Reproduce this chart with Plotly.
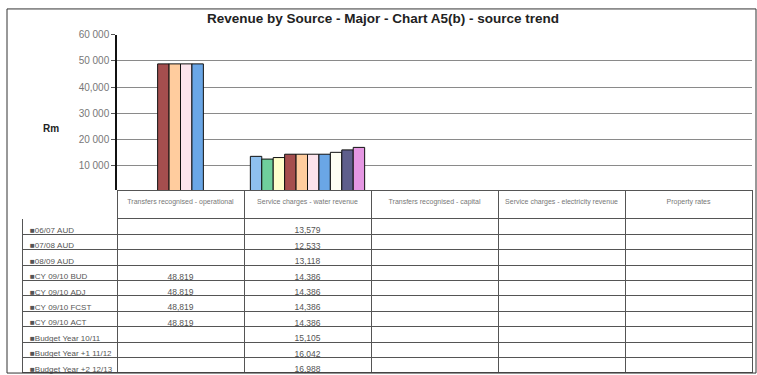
import plotly.graph_objects as go

W, H = 757, 375

categories = [
    "Transfers recognised - operational",
    "Service charges - water revenue",
    "Transfers recognised - capital",
    "Service charges - electricity revenue",
    "Property rates",
]

series_names = [
    "06/07 AUD", "07/08 AUD", "08/09 AUD",
    "CY 09/10 BUD", "CY 09/10 ADJ", "CY 09/10 FCST", "CY 09/10 ACT",
    "Budget Year 10/11", "Budget Year +1 11/12", "Budget Year +2 12/13",
]

# values per series, order of categories
v_0607 = [None, 13579, None, None, None]
v_0708 = [None, 12533, None, None, None]
v_0809 = [None, 13118, None, None, None]
v_bud = [48819, 14386, None, None, None]
v_adj = [48819, 14386, None, None, None]
v_fcst = [48819, 14386, None, None, None]
v_act = [48819, 14386, None, None, None]
v_1011 = [None, 15105, None, None, None]
v_1112 = [None, 16042, None, None, None]
v_1213 = [None, 16988, None, None, None]
series_values = [v_0607, v_0708, v_0809, v_bud, v_adj, v_fcst, v_act, v_1011, v_1112, v_1213]

colors = ["#8FC0EE", "#6FCF9C", "#FFFFCC", "#A54E4E", "#FFCC9E",
          "#FCE4EC", "#6AA6E6", "#FFFFF4", "#5E5E8C", "#E597E3"]

tick_vals = [10000, 20000, 30000, 40000, 50000, 60000]
tick_text = ["10 000", "20 000", "30 000", "40,000", "50 000", "60 000"]

NB = "\u00a0"


def px_x(p):
    return p / W


def px_y(p):
    return 1 - p / H


def nobreak(s):
    return s.replace(" ", NB)


fig = go.Figure()
for name, vals, col in zip(series_names, series_values, colors):
    fig.add_trace(go.Bar(
        x=categories, y=vals, name=name,
        marker=dict(color=col, line=dict(color="#111111", width=1)),
        hoverinfo="skip", showlegend=False,
    ))


def fmt(v):
    return "" if v is None else f"{v:,}"


row_labels = [nobreak("■" + n) for n in series_names]
col_values = [row_labels]
for ci in range(len(categories)):
    col_values.append([fmt(vals[ci]) for vals in series_values])

fig.add_trace(go.Table(
    domain=dict(x=[px_x(22), px_x(752)], y=[px_y(375), px_y(188)]),
    columnwidth=[95, 127, 127, 127, 127, 127],
    header=dict(
        values=[""] + [nobreak(c) for c in categories],
        height=28,
        align="center",
        fill=dict(color="white"),
        line=dict(color=["white"] + ["#555555"] * 5, width=1),
        font=dict(family="Liberation Sans, Arial", size=7, color="#777777"),
    ),
    cells=dict(
        values=col_values,
        height=15.4,
        align=["left", "center", "center", "center", "center", "center"],
        fill=dict(color="white"),
        line=dict(color="#555555", width=1),
        font=dict(family="Liberation Sans, Arial", size=[8, 8.5, 8.5, 8.5, 8.5, 8.5], color="#555555"),
    ),
))

fig.update_layout(
    width=W, height=H,
    margin=dict(l=0, r=0, t=0, b=0),
    paper_bgcolor="white", plot_bgcolor="white",
    barmode="group", bargap=0.1, bargroupgap=0,
    xaxis=dict(domain=[px_x(117), px_x(752)], showticklabels=False,
               showgrid=False, zeroline=False, showline=False, ticks=""),
    yaxis=dict(domain=[px_y(189), px_y(29)], range=[0, 60000],
               tickvals=tick_vals, ticktext=tick_text,
               showgrid=True, gridcolor="#8a8a8a", gridwidth=1,
               showline=True, linecolor="#111111", linewidth=1.5,
               ticks="outside", ticklen=4, tickcolor="#555555",
               zeroline=False,
               tickfont=dict(family="Liberation Sans, Arial", size=10, color="#777777")),
    title=dict(text="<b>Revenue by Source - Major - Chart A5(b) - source trend</b>",
               x=px_x(383), xanchor="center", y=px_y(18), yanchor="middle",
               font=dict(family="Liberation Sans, Arial", size=13.5, color="#222222")),
    annotations=[dict(text="<b>Rm</b>", x=px_x(41), y=px_y(117), xref="paper", yref="paper",
                      showarrow=False, font=dict(family="Liberation Sans, Arial", size=10, color="#222222"))],
    shapes=[dict(type="rect", xref="paper", yref="paper",
                 x0=px_x(7), x1=px_x(756), y0=px_y(373), y1=px_y(3),
                 line=dict(color="#333333", width=1))],
)

fig.write_html("out.html")
